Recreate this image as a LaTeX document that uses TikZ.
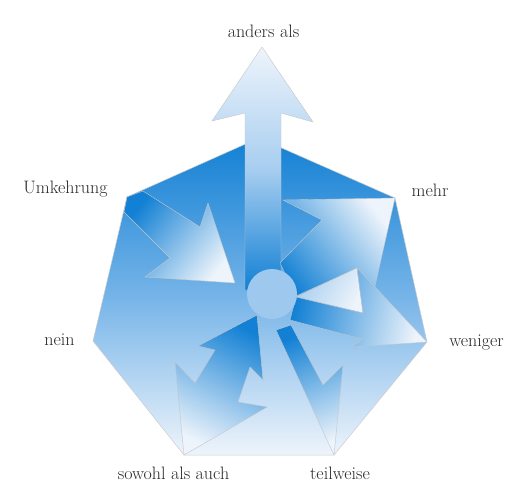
\documentclass[tikz,border=0pt]{standalone}
\definecolor{blueD}{RGB}{18,128,212}
\definecolor{blueM}{RGB}{118,180,232}
\definecolor{blueL}{RGB}{238,244,251}
\definecolor{shaftM}{RGB}{168,206,240}
\definecolor{hubblue}{RGB}{158,200,238}
\definecolor{lbltext}{RGB}{40,40,40}
\begin{document}
\begin{tikzpicture}[x=1pt, y=-1pt,
  lbl/.style={anchor=base, inner sep=0pt, text=lbltext, font=\fontsize{18}{21}\selectfont},
  arr/.style={draw=gray!45, line width=0.4pt}]
  \useasboundingbox (0,0) rectangle (511,482);
  % corners of the heptagon
  \coordinate (pT) at (259,138);
  \coordinate (pUR) at (395,198);
  \coordinate (pR) at (427,342);
  \coordinate (pBR) at (334,455);
  \coordinate (pBL) at (184,455);
  \coordinate (pL) at (93,341);
  \coordinate (pUL) at (127,197);
  \shadedraw[draw=gray!40, line width=0.5pt, top color=blueD, bottom color=blueL, middle color=blueM]
    (pT) -- (pUR) -- (pR) -- (pBR) -- (pBL) -- (pL) -- (pUL) -- cycle;
  % anders als
  \shadedraw[arr, top color=blueL, bottom color=blueD, middle color=shaftM]
    (245,290) -- (245,113) -- (212,121) -- (262,47) -- (313,122) -- (281,113) -- (281,290) -- cycle;
  % Umkehrung
  \shadedraw[arr, top color=blueD, bottom color=blueL, shading angle=51]
    (143,191) -- (200,227) -- (208,203) -- (235,283) -- (145,277) -- (170,258) -- (124,212) -- (pUL) -- cycle;
  % mehr
  \shadedraw[arr, top color=blueD, bottom color=blueL, shading angle=127]
    (280,263) -- (322,220) -- (283,200) -- (pUR) -- (370,308) -- (358,268) -- (296,296) -- cycle;
  % weniger
  \shadedraw[arr, top color=shaftM, bottom color=blueL, shading angle=60]
    (296,297) -- (357,268) -- (363,313) -- cycle;
  \shadedraw[arr, top color=blueD, bottom color=blueL, shading angle=76]
    (296,297) -- (363,313) -- (357,268) -- (pR) -- (352,347) -- (362,339) -- (290,320) -- cycle;
  % teilweise
  \shadedraw[arr, top color=blueD, bottom color=blueL, shading angle=22]
    (276,330) -- (pBR) -- (343,365) -- (323,385) -- (291,325) -- cycle;
  % sowohl als auch
  \shadedraw[arr, top color=blueD, bottom color=blueL, shading angle=-27]
    (257,315) -- (263,380) -- (250,367) -- (238,402) -- (267,407) -- (pBL) -- (175,362) -- (195,383) -- (215,350) -- (198,346) -- cycle;
  % hub
  \fill[hubblue] (272,294) circle[radius=25];
  % labels
  \node[lbl] (lAnders) at (263.5,37) {anders als};
  \node[lbl] (lUmk) at (65.5,193) {Umkehrung};
  \node[lbl] (lMehr) at (430,196) {mehr};
  \node[lbl] (lNein) at (59.5,345) {nein};
  \node[lbl] (lWeniger) at (476.5,346) {weniger};
  \node[lbl] (lSowohl) at (173.5,479) {sowohl als auch};
  \node[lbl] (lTeil) at (340,479) {teilweise};
\end{tikzpicture}
\end{document}
